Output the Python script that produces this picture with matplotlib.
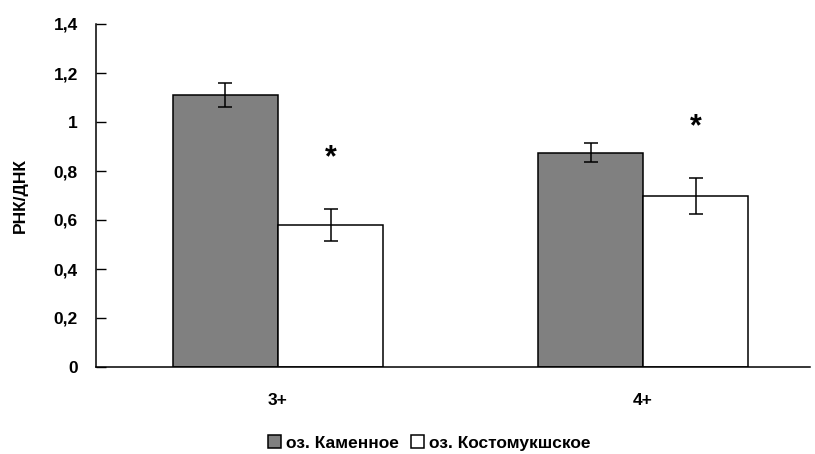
import matplotlib
matplotlib.use("Agg")
import matplotlib.pyplot as plt
import numpy as np

plt.rcParams['font.family'] = ['Liberation Sans', 'DejaVu Sans']
plt.rcParams['font.weight'] = 'bold'

categories = ["3+", "4+"]
series_names = ["оз. Каменное", "оз. Костомукшское"]
kamennoe = [1.11, 0.875]
kamennoe_err = [0.05, 0.04]
kostomuksha = [0.578, 0.698]
kostomuksha_err = [0.065, 0.072]
significant = [True, True]
yticks = [0, 0.2, 0.4, 0.6, 0.8, 1.0, 1.2, 1.4]
ytick_labels = ["0", "0,2", "0,4", "0,6", "0,8", "1", "1,2", "1,4"]

FS = 12.5

fig = plt.figure(figsize=(8.15, 4.54), dpi=100)
ax = fig.add_axes([96/815, 1 - 367/454, 714/815, 343/454])

x = np.arange(len(categories))
w = 0.2877
err_kw = dict(ecolor='black', elinewidth=1.1, capsize=4.7, capthick=1.1)
b1 = ax.bar(x - w/2, kamennoe, w, yerr=kamennoe_err, color='#808080',
            edgecolor='black', linewidth=1.1, error_kw=err_kw, label=series_names[0])
b2 = ax.bar(x + w/2, kostomuksha, w, yerr=kostomuksha_err, color='white',
            edgecolor='black', linewidth=1.1, error_kw=err_kw, label=series_names[1])

for xi, v, e, s in zip(x, kostomuksha, kostomuksha_err, significant):
    if s:
        ax.text(xi + w/2, v + e + 0.21, "*", ha='center', va='center',
                fontsize=22, fontweight='bold')

ax.set_xlim(-0.4986, 1.4575)
ax.set_ylim(0, 1.4)
ax.set_yticks(yticks)
ax.set_yticklabels(ytick_labels)
ax.set_xticks(x)
ax.set_xticklabels(categories)
ax.tick_params(axis='y', direction='in', length=7, width=1, labelsize=FS, pad=13)
ax.tick_params(axis='x', length=0, labelsize=FS, pad=19)
for lab in ax.get_yticklabels() + ax.get_xticklabels():
    lab.set_fontweight('bold')
ax.spines['top'].set_visible(False)
ax.spines['right'].set_visible(False)
ax.spines['left'].set_linewidth(1.1)
ax.spines['bottom'].set_linewidth(1.1)
ax.set_ylabel("РНК/ДНК", fontsize=FS, fontweight='bold')
ax.yaxis.set_label_coords(-(96 - 28) / 714, 0.5)

leg = fig.legend(handles=[b1, b2], labels=series_names, loc='center',
                 bbox_to_anchor=(429/815, 1 - 443/454), ncol=2, frameon=False,
                 handlelength=0.75, handleheight=0.75, handletextpad=0.3,
                 columnspacing=0.7, borderpad=0, prop={'weight': 'bold', 'size': FS})

fig.savefig("out.png", dpi=100)
